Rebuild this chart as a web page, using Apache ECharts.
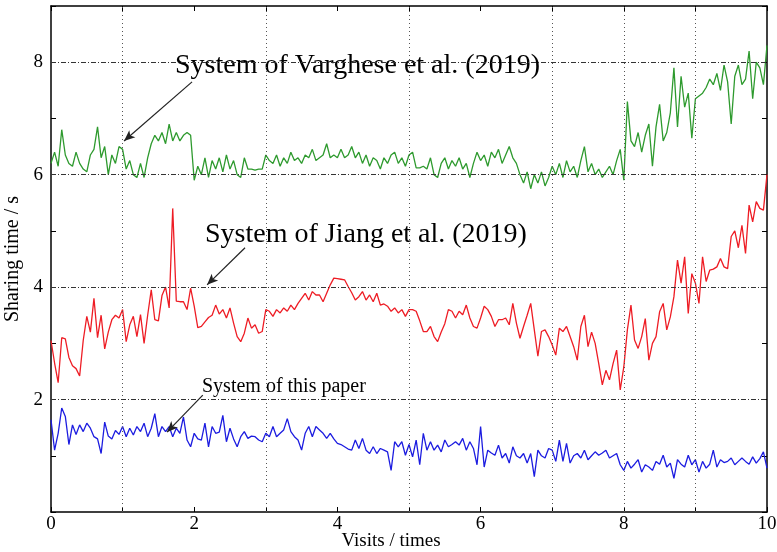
<!DOCTYPE html>
<html>
<head>
<meta charset="utf-8">
<script src="https://cdn.jsdelivr.net/npm/echarts@6/dist/echarts.min.js"></script>
<style>
  html, body { margin: 0; padding: 0; background: #fff; }
  #chart { width: 777px; height: 552px; }
</style>
</head>
<body>
<div id="chart"></div>
<script>
// sampling step of the visits axis (x = index * step)
var step = 0.05

// System of Varghese et al. (2019)
var varghese = [
  6.2, 6.4, 6.15, 6.8, 6.35, 6.2, 6.15, 6.4, 6.2, 6.1, 6.05, 6.35, 6.45, 6.85, 6.3, 6.5, 6.0, 6.35, 6.2, 6.5,
  6.45, 6.1, 6.25, 6.0, 5.95, 6.2, 5.95, 6.3, 6.55, 6.7, 6.6, 6.75, 6.55, 6.9, 6.6, 6.75, 6.6, 6.7, 6.75, 6.7,
  5.9, 6.15, 6.0, 6.3, 5.95, 6.25, 6.1, 6.3, 6.05, 6.35, 6.1, 6.25, 6.0, 5.95, 6.3, 6.1, 6.1, 6.08, 6.1, 6.1,
  6.35, 6.25, 6.2, 6.35, 6.15, 6.3, 6.2, 6.4, 6.25, 6.3, 6.2, 6.35, 6.3, 6.45, 6.25, 6.3, 6.35, 6.55, 6.3, 6.35,
  6.3, 6.45, 6.3, 6.35, 6.5, 6.3, 6.4, 6.2, 6.35, 6.15, 6.3, 6.25, 6.1, 6.3, 6.2, 6.35, 6.4, 6.2, 6.3, 6.15,
  6.35, 6.4, 6.12, 6.12, 6.15, 6.1, 6.3, 6.0, 5.95, 6.2, 6.3, 6.1, 6.25, 6.15, 6.3, 6.1, 6.2, 5.95, 6.2, 6.4,
  6.25, 6.35, 6.15, 6.4, 6.3, 6.45, 6.2, 6.35, 6.5, 6.3, 6.2, 6.0, 5.85, 6.05, 5.75, 6.0, 5.85, 6.05, 5.8, 5.95,
  6.15, 6.0, 6.2, 5.95, 6.25, 6.05, 6.15, 5.95, 6.25, 6.5, 6.05, 6.2, 6.0, 6.1, 5.95, 6.05, 6.15, 6.0, 6.25, 6.45,
  5.9, 7.3, 6.6, 6.5, 6.75, 6.4, 6.7, 6.9, 6.15, 6.85, 7.25, 6.6, 6.75, 7.1, 7.9, 6.85, 7.75, 7.2, 7.45, 6.65,
  7.35, 7.4, 7.45, 7.55, 7.7, 7.6, 7.8, 7.5, 7.95, 7.65, 6.9, 7.75, 7.95, 7.6, 7.7, 8.2, 7.35, 8.0, 7.9, 7.6,
  8.3
]

// System of Jiang et al. (2019)
var jiang = [
  3.05, 2.65, 2.3, 3.1, 3.08, 2.75, 2.6, 2.55, 2.42, 3.05, 3.48, 3.2, 3.8, 3.1, 3.5, 2.9, 3.2, 3.42, 3.5, 3.45,
  3.6, 3.03, 3.33, 3.48, 3.12, 3.51, 3.0, 3.5, 3.95, 3.42, 3.4, 3.85, 4.0, 3.63, 5.4, 3.75, 3.74, 3.74, 3.6, 3.98,
  3.66, 3.28, 3.3, 3.38, 3.46, 3.5, 3.68, 3.52, 3.6, 3.45, 3.63, 3.36, 3.12, 3.03, 3.18, 3.45, 3.27, 3.33, 3.18, 3.21,
  3.6, 3.57, 3.48, 3.6, 3.54, 3.63, 3.57, 3.68, 3.6, 3.71, 3.8, 3.89, 3.77, 3.92, 3.86, 3.86, 3.74, 3.89, 4.04, 4.16,
  4.15, 4.14, 4.13, 4.01, 3.9, 3.77, 3.83, 3.92, 3.77, 3.86, 3.74, 3.89, 3.68, 3.7, 3.66, 3.57, 3.63, 3.54, 3.6, 3.48,
  3.6, 3.6, 3.57, 3.4, 3.21, 3.21, 3.3, 3.12, 3.03, 3.2, 3.35, 3.6, 3.57, 3.45, 3.57, 3.51, 3.68, 3.45, 3.3, 3.27,
  3.45, 3.66, 3.6, 3.48, 3.3, 3.42, 3.42, 3.45, 3.33, 3.71, 3.36, 3.09, 3.3, 3.5, 3.71, 3.24, 2.77, 3.21, 3.24, 3.12,
  2.97, 2.79, 3.27, 3.21, 3.3, 3.12, 2.94, 2.7, 3.3, 3.5, 2.94, 3.2, 3.0, 2.64, 2.26, 2.52, 2.35, 2.64, 2.88, 2.17,
  2.58, 3.24, 3.68, 3.06, 2.91, 3.12, 3.44, 2.7, 3.0, 3.12, 3.56, 3.71, 3.24, 3.47, 3.83, 4.48, 4.07, 4.54, 3.53, 4.24,
  4.07, 3.71, 4.54, 4.1, 4.3, 4.32, 4.36, 4.51, 4.36, 4.33, 4.9, 5.0, 4.7, 5.1, 4.6, 5.46, 5.16, 5.52, 5.4, 5.37,
  6.0
]

// System of this paper
var thisPaper = [
  1.64, 1.1, 1.4, 1.85, 1.7, 1.2, 1.55, 1.38, 1.55, 1.43, 1.58, 1.49, 1.34, 1.3, 1.04, 1.6, 1.35, 1.3, 1.45, 1.38,
  1.52, 1.34, 1.49, 1.37, 1.52, 1.43, 1.58, 1.34, 1.49, 1.75, 1.34, 1.52, 1.43, 1.52, 1.34, 1.49, 1.4, 1.69, 1.28, 1.16,
  1.4, 1.3, 1.28, 1.58, 1.16, 1.52, 1.4, 1.42, 1.72, 1.25, 1.49, 1.3, 1.16, 1.34, 1.43, 1.31, 1.35, 1.34, 1.28, 1.25,
  1.4, 1.34, 1.52, 1.34, 1.4, 1.46, 1.66, 1.43, 1.34, 1.28, 1.1, 1.4, 1.52, 1.34, 1.52, 1.46, 1.4, 1.31, 1.4, 1.3,
  1.22, 1.2, 1.16, 1.12, 1.1, 1.28, 1.13, 1.31, 1.1, 1.04, 1.16, 1.04, 1.13, 1.1, 1.07, 0.74, 1.25, 1.16, 1.25, 1.01,
  1.2, 0.98, 1.28, 0.84, 1.4, 1.1, 1.25, 1.1, 1.19, 1.07, 1.28, 1.16, 1.2, 1.25, 1.19, 1.31, 1.1, 1.25, 1.13, 0.84,
  1.52, 0.8, 1.1, 1.05, 1.01, 1.19, 0.96, 1.04, 0.87, 1.16, 1.0, 0.96, 1.04, 0.87, 1.04, 0.63, 1.1, 1.0, 0.96, 1.13,
  1.1, 0.9, 1.28, 0.9, 1.22, 0.87, 1.0, 1.04, 0.96, 1.1, 0.93, 1.0, 1.07, 1.01, 1.05, 1.1, 0.96, 1.0, 1.04, 0.84,
  0.74, 0.9, 0.78, 0.85, 0.93, 0.71, 0.84, 0.8, 0.74, 0.9, 0.85, 1.01, 0.8, 0.87, 0.6, 0.93, 0.85, 0.8, 1.01, 0.84,
  0.93, 0.71, 0.9, 0.78, 0.85, 1.1, 0.8, 0.93, 0.88, 0.9, 0.96, 0.84, 0.9, 0.96, 0.9, 0.85, 0.98, 0.87, 0.95, 1.07,
  0.78
]

var xTickLabels = ['0', '2', '4', '6', '8', '10']
var yTickLabels = ['2', '4', '6', '8']
var vGridX = [1, 3, 5, 7, 8, 9]
var hGridY = [2, 4, 6, 8]

// arrow [from, to] in data coordinates
var arrowVarghese = [[1.97, 7.65], [1.02, 6.6]]
var arrowJiang = [[2.71, 4.7], [2.18, 4.04]]
var arrowThisPaper = [[2.12, 2.08], [1.62, 1.42]]

var serif = '"Liberation Serif", "Times New Roman", serif'

function toPairs(values) {
  return values.map(function(v, i) {
    return [Math.round(i * step * 100) / 100, v]
  })
}

function arrow(a) {
  return {
    silent: true,
    symbol: ['none', 'arrow'],
    symbolSize: [7, 11],
    label: { show: false },
    lineStyle: { color: '#222', width: 1.2, type: 'solid' },
    data: [[{ coord: a[0] }, { coord: a[1] }]]
  }
}

function frameAxis(extra) {
  var base = {
    type: 'value',
    axisLine: { show: true, onZero: false, lineStyle: { color: '#000', width: 1.5 } },
    axisTick: { show: true, inside: true, length: 5, lineStyle: { color: '#000', width: 1 } },
    axisLabel: { show: false },
    splitLine: { show: false }
  }
  return Object.assign(base, extra)
}

var chart = echarts.init(document.getElementById('chart'))

chart.setOption({
  animation: false,
  backgroundColor: '#fff',
  grid: { left: 51, right: 10, top: 6, bottom: 40, outerBoundsMode: 'none', containLabel: false },
  xAxis: [
    frameAxis({
      min: 0,
      max: 10,
      interval: 1,
      name: 'Visits / times',
      nameLocation: 'middle',
      nameGap: 20,
      nameMoveOverlap: false,
      nameTextStyle: { fontFamily: serif, fontSize: 19, color: '#000', padding: [0, 36, 0, 0] },
      axisLabel: {
        show: true,
        fontFamily: serif,
        fontSize: 19,
        color: '#000',
        margin: 3,
        formatter: function(v) {
          return xTickLabels.indexOf(String(v)) >= 0 ? String(v) : ''
        }
      }
    }),
    frameAxis({ min: 0, max: 10, interval: 1, position: 'top' })
  ],
  yAxis: [
    frameAxis({
      min: 0,
      max: 9,
      interval: 1,
      name: 'Sharing time / s',
      nameLocation: 'middle',
      nameGap: 28,
      nameMoveOverlap: false,
      nameTextStyle: { fontFamily: serif, fontSize: 20, color: '#000' },
      axisLabel: {
        show: true,
        fontFamily: serif,
        fontSize: 19,
        color: '#000',
        margin: 8,
        formatter: function(v) {
          return yTickLabels.indexOf(String(v)) >= 0 ? String(v) : ''
        }
      }
    }),
    frameAxis({ min: 0, max: 9, interval: 1, position: 'right' })
  ],
  series: [
    {
      // grid lines only at the places the figure has them
      type: 'line',
      data: [],
      z: 1,
      markLine: {
        silent: true,
        symbol: 'none',
        label: { show: false },
        data: vGridX.map(function(x) {
          return { xAxis: x, lineStyle: { color: '#555', width: 1, type: [1, 3] } }
        }).concat(hGridY.map(function(y) {
          return { yAxis: y, lineStyle: { color: '#333', width: 1, type: [5, 2, 1, 2] } }
        }))
      }
    },
    {
      name: 'System of Varghese et al. (2019)',
      type: 'line',
      z: 3,
      symbol: 'none',
      lineStyle: { color: '#2e9a2e', width: 1.3 },
      data: toPairs(varghese),
      markLine: arrow(arrowVarghese)
    },
    {
      name: 'System of Jiang et al. (2019)',
      type: 'line',
      z: 3,
      symbol: 'none',
      lineStyle: { color: '#ee1c24', width: 1.3 },
      data: toPairs(jiang),
      markLine: arrow(arrowJiang)
    },
    {
      name: 'System of this paper',
      type: 'line',
      z: 3,
      symbol: 'none',
      lineStyle: { color: '#1c1ce0', width: 1.3 },
      data: toPairs(thisPaper),
      markLine: arrow(arrowThisPaper)
    }
  ],
  graphic: [
    {
      type: 'text',
      left: 175,
      top: 52,
      style: { text: 'System of Varghese et al. (2019)', font: '28px ' + serif, fill: '#000' }
    },
    {
      type: 'text',
      left: 205,
      top: 221,
      style: { text: 'System of Jiang et al. (2019)', font: '28px ' + serif, fill: '#000' }
    },
    {
      type: 'text',
      left: 202,
      top: 377,
      style: { text: 'System of this paper', font: '20px ' + serif, fill: '#000' }
    }
  ]
})
</script>
</body>
</html>
